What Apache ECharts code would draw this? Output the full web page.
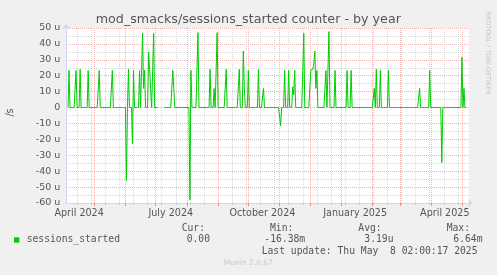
<!DOCTYPE html>
<html><head><meta charset="utf-8">
<script src="https://cdn.jsdelivr.net/npm/echarts@6/dist/echarts.min.js"></script>
<style>html,body{margin:0;padding:0;background:#f0f0f0}#c{width:497px;height:275px}</style>
</head><body><div id="c"></div>
<script>
// ---- data ----
const startDate = '2024-04-03';
const endDate = '2025-05-08';
const dataFirst = '2024-04-05';
const dataLast = '2025-05-05';
const gapFrom = '2024-07-04';
const gapTo = '2024-07-09';
const spikeDates = [
  '2024-04-06','2024-04-13','2024-04-17','2024-04-25','2024-05-06','2024-05-19',
  '2024-06-02','2024-06-04','2024-06-08','2024-06-09','2024-06-15','2024-06-18',
  '2024-06-19','2024-06-20','2024-06-24','2024-06-25','2024-06-26','2024-06-29',
  '2024-07-18','2024-07-19','2024-08-04','2024-08-05','2024-08-12','2024-08-24',
  '2024-08-28','2024-08-31','2024-09-09','2024-09-22','2024-09-26','2024-09-27',
  '2024-10-01','2024-10-11','2024-10-16','2024-11-02','2024-11-06','2024-11-10',
  '2024-11-14','2024-11-15','2024-11-16','2024-11-25','2024-12-02','2024-12-03',
  '2024-12-04','2024-12-05','2024-12-06','2024-12-07','2024-12-08','2024-12-17',
  '2024-12-20','2024-12-26','2025-01-07','2025-01-11','2025-02-03','2025-02-05',
  '2025-02-09','2025-02-17','2025-03-20','2025-03-30','2025-04-11','2025-05-01',
  '2025-05-03'
];
const spikeValues = [
  23.3, 23.3, 24, 23.3, 23.3, 23.3,
  -45.9, 24, -22.8, 23.3, 23.3, 46.7,
  12, 23.5, 35, 24, 12, 46.7,
  23.3, 12, -58, 23.3, 47.1, 24,
  12, 47.1, 24, 24, 35.5, 12,
  23.3, 24, 12, -11.5, 23.3, 23.3,
  13, 8, 23.3, 46.7, 23.7, 23.7,
  24, 28, 35.5, 12, 23.3, 23.3,
  47.8, 23.3, 23.3, 23.3, 12, 24,
  23.3, 23.3, 12, 23.3, -34.6, 31.5,
  12
];
const monthTicks = ['2024-05-01','2024-06-01','2024-07-01','2024-08-01','2024-09-01','2024-10-01',
  '2024-11-01','2024-12-01','2025-01-01','2025-02-01','2025-03-01','2025-04-01','2025-05-01'];
const minorTicks = ['2024-04-14','2024-04-28','2024-05-12','2024-05-26','2024-06-09','2024-06-23',
  '2024-07-07','2024-07-21','2024-08-04','2024-08-18','2024-09-01','2024-09-15','2024-09-29',
  '2024-10-13','2024-10-27','2024-11-10','2024-11-24','2024-12-08','2024-12-22','2025-01-05',
  '2025-01-19','2025-02-02','2025-02-16','2025-03-02','2025-03-16','2025-03-30','2025-04-13','2025-04-27'];
const xLabelDates = ['2024-04-16','2024-07-16','2024-10-15','2025-01-15','2025-04-14'];
const xLabelTexts = ['April 2024','July 2024','October 2024','January 2025','April 2025'];
const yMin = -60, yMax = 50, yMajor = 10, yMinor = 5;
const titleText = 'mod_smacks/sessions_started counter - by year';
const seriesName = 'sessions_started';
const statHeads = ['Cur:','Min:','Avg:','Max:'];
const statValues = ['0.00','-16.38m','3.19u','6.64m'];
const lastUpdate = 'Last update: Thu May  8 02:00:17 2025';

// ---- build ----
const DAY = 86400000;
const ts = s => Date.parse(s + 'T00:00:00Z');
const spikeMap = {};
spikeDates.forEach((d, i) => { spikeMap[ts(d)] = spikeValues[i]; });
const data = [];
for (let t = ts(dataFirst); t <= ts(dataLast); t += DAY) {
  let v = spikeMap[t] !== undefined ? spikeMap[t] : 0;
  if (t >= ts(gapFrom) && t <= ts(gapTo)) v = '-';
  data.push([t, v]);
}
const labelMap = {};
xLabelDates.forEach((d, i) => { labelMap[ts(d)] = xLabelTexts[i]; });

const SANS = "'DejaVu Sans', sans-serif";
const MONO = "'DejaVu Sans Mono', monospace";
const TXT = '#555555';
const GRID_MINOR = '#d9d9d9';
const GRID_MAJOR = '#f0b4b4';
const AXIS = '#cfd6f8';

const commonX = { type: 'value', min: ts(startDate), max: ts(endDate), position: 'bottom' };
const chart = echarts.init(document.getElementById('c'), null, { renderer: 'canvas' });
const statX = [181.7, 270, 358.3, 446.7];
const valX = [186.7, 264.3, 364.3, 453.3];
const graphics = [
  { type: 'text', x: 248.3, y: 19.8, style: { text: titleText, font: "12.7px " + SANS, fill: TXT, textAlign: 'center', textVerticalAlign: 'middle' } },
  { type: 'text', x: 10.8, y: 112.5, rotation: Math.PI / 2, style: { text: '/s', font: "9.6px " + SANS, fill: TXT, textAlign: 'center', textVerticalAlign: 'middle' } },
  { type: 'text', x: 488, y: 53, rotation: -Math.PI / 2, style: { text: 'RRDTOOL / TOBI OETIKER', font: "6.5px " + SANS, fill: '#c4c4c4', textAlign: 'center', textVerticalAlign: 'middle' } },
  { type: 'rect', shape: { x: 14, y: 237.3, width: 5.3, height: 5.3 }, style: { fill: '#00cc00' } },
  { type: 'text', x: 26.7, y: 239.8, style: { text: seriesName, font: "9.7px " + MONO, fill: TXT, textAlign: 'left', textVerticalAlign: 'middle' } },
  { type: 'text', x: 261.7, y: 251.6, style: { text: lastUpdate, font: "9.7px " + MONO, fill: TXT, textAlign: 'left', textVerticalAlign: 'middle' } },
  { type: 'text', x: 248.3, y: 263.3, style: { text: 'Munin 2.0.67', font: "7.5px " + SANS, fill: '#c8c8c8', textAlign: 'center', textVerticalAlign: 'middle' } }
];
statHeads.forEach((h, i) => graphics.push({ type: 'text', x: statX[i], y: 228, style: { text: h, font: "9.7px " + MONO, fill: TXT, textAlign: 'left', textVerticalAlign: 'middle' } }));
statValues.forEach((h, i) => graphics.push({ type: 'text', x: valX[i], y: 239.8, style: { text: h, font: "9.7px " + MONO, fill: TXT, textAlign: 'left', textVerticalAlign: 'middle' } }));

chart.setOption({
  animation: false,
  backgroundColor: '#f0f0f0',
  grid: { left: 66, top: 28, width: 403, height: 175, show: true, backgroundColor: '#ffffff', borderWidth: 0, containLabel: false, outerBoundsMode: 'none' },
  xAxis: [
    Object.assign({}, commonX, {
      axisLine: { show: false, onZero: false }, axisLabel: { show: false },
      axisTick: { show: true, customValues: minorTicks.map(ts), length: 2, lineStyle: { color: '#c8c8c8' } },
      splitLine: { show: true, lineStyle: { color: GRID_MINOR, type: [1, 1], width: 1 } }
    }),
    Object.assign({}, commonX, {
      axisLine: { show: true, onZero: false, lineStyle: { color: AXIS, width: 1 }, symbol: ['none', 'arrow'], symbolSize: [6, 5], symbolOffset: [0, 4] },
      axisLabel: { show: false },
      axisTick: { show: true, customValues: monthTicks.map(ts), length: 3, lineStyle: { color: '#e89090' } },
      splitLine: { show: true, lineStyle: { color: GRID_MAJOR, type: [1, 1], width: 1 } }
    }),
    Object.assign({}, commonX, {
      axisLine: { show: false, onZero: false }, axisTick: { show: false }, splitLine: { show: false },
      axisLabel: { show: true, customValues: xLabelDates.map(ts), formatter: v => labelMap[v] || '', fontFamily: SANS, fontSize: 9.6, color: TXT, margin: 10.2, verticalAlign: 'middle', hideOverlap: false }
    })
  ],
  yAxis: [
    { type: 'value', min: yMin, max: yMax, interval: yMinor, position: 'left',
      axisLine: { show: false, onZero: false }, axisTick: { show: false }, axisLabel: { show: false },
      splitLine: { show: true, lineStyle: { color: GRID_MINOR, type: [1, 1], width: 1 } } },
    { type: 'value', min: yMin, max: yMax, interval: yMajor, position: 'left',
      axisLine: { show: true, onZero: false, lineStyle: { color: AXIS, width: 1 }, symbol: ['none', 'arrow'], symbolSize: [6, 5], symbolOffset: [0, 4] },
      axisTick: { show: false },
      axisLabel: { formatter: v => v === 0 ? '0' : v + ' u', fontFamily: SANS, fontSize: 9.5, color: TXT, margin: 5.7 },
      splitLine: { show: true, lineStyle: { color: GRID_MAJOR, type: [1, 1], width: 1 } } }
  ],
  graphic: graphics,
  series: [{
    name: seriesName, type: 'line', xAxisIndex: 0, yAxisIndex: 1, data: data,
    showSymbol: false, symbol: 'none', connectNulls: false,
    lineStyle: { color: '#00cc00', width: 1 }, z: 5
  }]
});
</script>
</body></html>
